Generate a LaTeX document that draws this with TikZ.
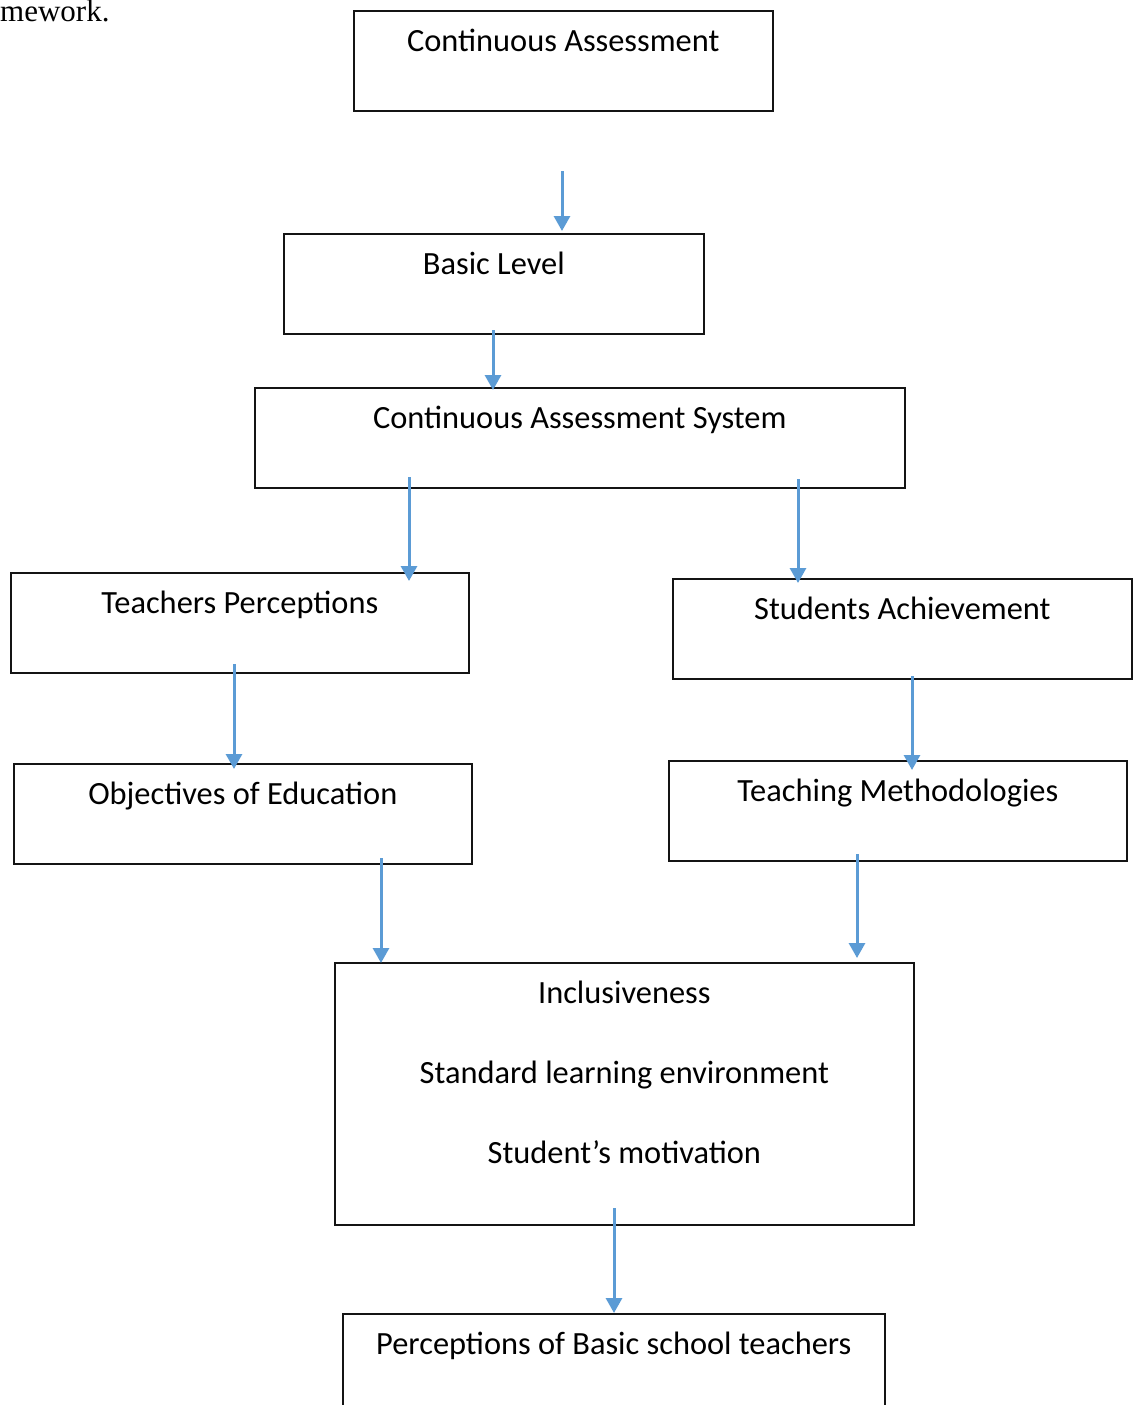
\documentclass[tikz,border=0pt]{standalone}
\usepackage{fontspec}
\setmainfont{Carlito}
\newfontfamily\timesfont{Liberation Serif}
\usepackage{tikz}
\usetikzlibrary{arrows.meta, positioning, calc}
\usepackage{xcolor}
\definecolor{cLine}{RGB}{91,155,213}
\definecolor{cEdge}{RGB}{20,20,20}
\tikzset{
  boxnode/.style={rectangle, draw=cEdge, line width=1.6pt, inner sep=0pt,
                  text height=41pt, text depth=59pt, anchor=north west,
                  font=\fontsize{32.4}{38}\selectfont},
  flowarrow/.style={-{Triangle[width=16pt,length=15pt]}, line width=3pt,
                    color=cLine}
}
\begin{document}
\begin{tikzpicture}[x=1pt, y=-1pt]
  \useasboundingbox (0,0) rectangle (1138,1405);

  \node[font=\timesfont\fontsize{31}{37}\selectfont, anchor=base west,
        inner sep=0pt] (cap) at (0,22) {mework.};

  \node[boxnode, minimum width=419pt] (ca) at (353,10) {Continuous Assessment};
  \node[boxnode, minimum width=420pt] (basic) at (283,233) {Basic Level};
  \node[boxnode, minimum width=650pt] (cas) at (254,387)
      {Continuous Assessment System};
  \node[boxnode, minimum width=458pt] (tp) at (10,572) {Teachers Perceptions};
  \node[boxnode, minimum width=459pt] (sa) at (672,578) {Students Achievement};
  \node[boxnode, minimum width=458pt] (oe) at (13,763) {Objectives of Education};
  \node[boxnode, minimum width=458pt] (tm) at (668,760) {Teaching Methodologies};
  \node[boxnode, text width=579pt, align=flush center, text depth=221pt,
        font=\fontsize{32.4}{80}\selectfont] (outc) at (334,962)
      {Inclusiveness\\Standard learning environment\\Student’s motivation};
  \node[boxnode, minimum width=542pt] (pb) at (342,1313)
      {Perceptions of Basic school teachers};

  % arrows start inside or below a box and stop on the next one
  \foreach \i/\x/\ys/\to/\dy in {1/562/171/basic/2, 2/493/330/cas/-3,
      3/409/477/tp/-9, 4/798/479/sa/-5, 5/234/664/oe/-6, 6/912/676/tm/-10,
      7/381/858/outc/-1, 8/857/854/outc/4, 9/614/1208/pb/0} {
    \coordinate (s\i) at (\x,\ys);
    \draw[flowarrow] (s\i) -- ([yshift=\dy pt]s\i |- \to.north);
  }
\end{tikzpicture}
\end{document}
